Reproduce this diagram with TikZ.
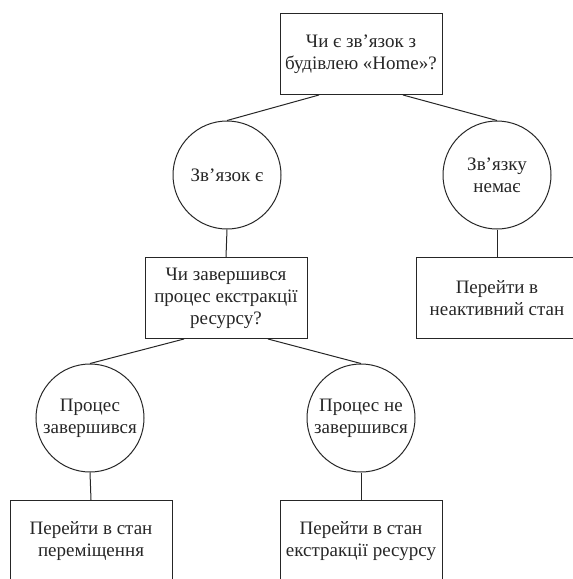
\documentclass[tikz,border=0pt]{standalone}
\usepackage{fontspec}
\setmainfont{Liberation Serif}
\usepackage{tikz}

\begin{document}
\begin{tikzpicture}[x=1pt, y=-1pt,
	    every node/.style={font=\fontsize{19}{22}\selectfont, text=black!85, align=center},
	    qbox/.style={draw=black!85, line width=1pt, minimum width=162pt, minimum height=81pt, inner sep=0pt},
	    ans/.style={draw=black!85, line width=1pt, circle, minimum size=108pt, inner sep=0pt},
	    link/.style={draw=black!85, line width=1pt}]
	    \clip (0,0) rectangle (573,579);
	    \node[qbox] (home) at (361,54) {Чи є зв’язок з\\будівлею «Home»?};
	    \node[ans] (yes) at (227,175) {Зв’язок є};
	    \node[ans] (no) at (497,175) {Зв’язку\\немає};
	    \node[qbox] (done) at (226,298) {Чи завершився\\процес екстракції\\ресурсу?};
	    \node[qbox] (idle) at (497,298) {Перейти в\\неактивний стан};
	    \node[ans] (finished) at (90,418) {Процес\\завершився};
	    \node[ans] (running) at (361,418) {Процес не\\завершився};
	    \node[qbox] (move) at (91,541) {Перейти в стан\\переміщення};
	    \node[qbox] (extract) at (361,541) {Перейти в стан\\екстракції ресурсу};
	    % edges
	    \draw[link] ([xshift=-42pt]home.south) -- (yes.north);
	    \draw[link] ([xshift=42pt]home.south) -- (no.north);
	    \draw[link] (yes.south) -- (done.north);
	    \draw[link] (no.south) -- (idle.north);
	    \draw[link] ([xshift=-42pt]done.south) -- (finished.north);
	    \draw[link] ([xshift=42pt]done.south) -- (running.north);
	    \draw[link] (finished.south) -- (move.north);
	    \draw[link] (running.south) -- (extract.north);
	  \end{tikzpicture}
\end{document}
